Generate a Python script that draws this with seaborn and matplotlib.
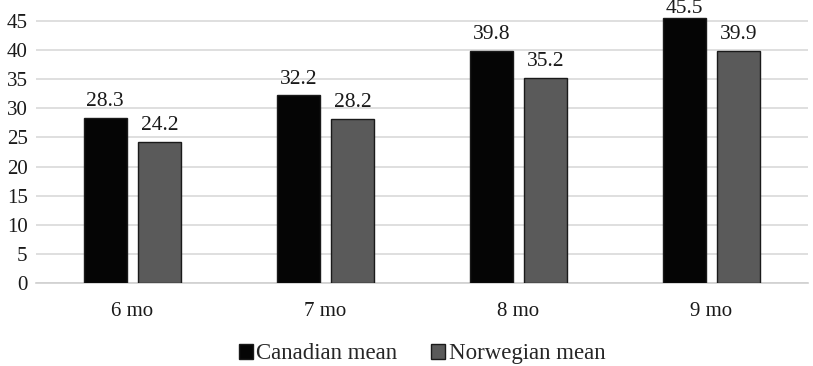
import matplotlib
matplotlib.use("Agg")
import matplotlib.pyplot as plt
import seaborn as sns
import pandas as pd

# values
months = ["6 mo", "7 mo", "8 mo", "9 mo"]
canadian = [28.3, 32.2, 39.8, 45.5]
norwegian = [24.2, 28.2, 35.2, 39.9]
series_names = ["Canadian mean", "Norwegian mean"]

df = pd.DataFrame({
    "month": months * 2,
    "value": canadian + norwegian,
    "series": [series_names[0]] * 4 + [series_names[1]] * 4,
})

sns.set_style("white")
plt.rcParams["font.family"] = ["Liberation Serif", "DejaVu Serif"]

fig = plt.figure(figsize=(8.13, 3.66), dpi=100)
ax = fig.add_axes([36 / 813, 83 / 366, 772 / 813, 283 / 366])

palette = {series_names[0]: "#050505", series_names[1]: "#5a5a5a"}
sns.barplot(data=df, x="month", y="value", hue="series", palette=palette,
            width=0.565, gap=0.22, edgecolor="#1a1a1a", linewidth=1.0,
            saturation=1, ax=ax, zorder=3)

ax.set_ylim(0, 48.6)
for cont in ax.containers:
    labels = ax.bar_label(cont, fmt="%.1f", padding=5, fontsize=15.5,
                          color="#1a1a1a", clip_on=False)
    # the tallest label is pushed down so it stays inside the figure
    for lab, v in zip(labels, cont.datavalues):
        if v > 45:
            lab.xyann = (0, 0.2)

ax.set_xlim(-0.5, 3.5)
ax.set_yticks(range(0, 50, 5))
ax.yaxis.grid(True, color="#d9d9d9", linewidth=1.2, zorder=0)
ax.set_axisbelow(True)
for s in ["top", "right", "left"]:
    ax.spines[s].set_visible(False)
ax.spines["bottom"].set_color("#d0d0d0")
ax.spines["bottom"].set_linewidth(1.2)
ax.tick_params(axis="both", length=0, labelsize=15, labelcolor="#1a1a1a")
ax.tick_params(axis="x", pad=14)
ax.tick_params(axis="y", pad=6)
ax.set_xlabel("")
ax.set_ylabel("")

ax.legend(loc="lower center", bbox_to_anchor=(0.5, -0.32), ncol=2, frameon=False,
          fontsize=16.5, handlelength=0.6, handleheight=0.6, handletextpad=0.15,
          columnspacing=1.5, borderaxespad=0)

fig.savefig("out.png", dpi=100)
